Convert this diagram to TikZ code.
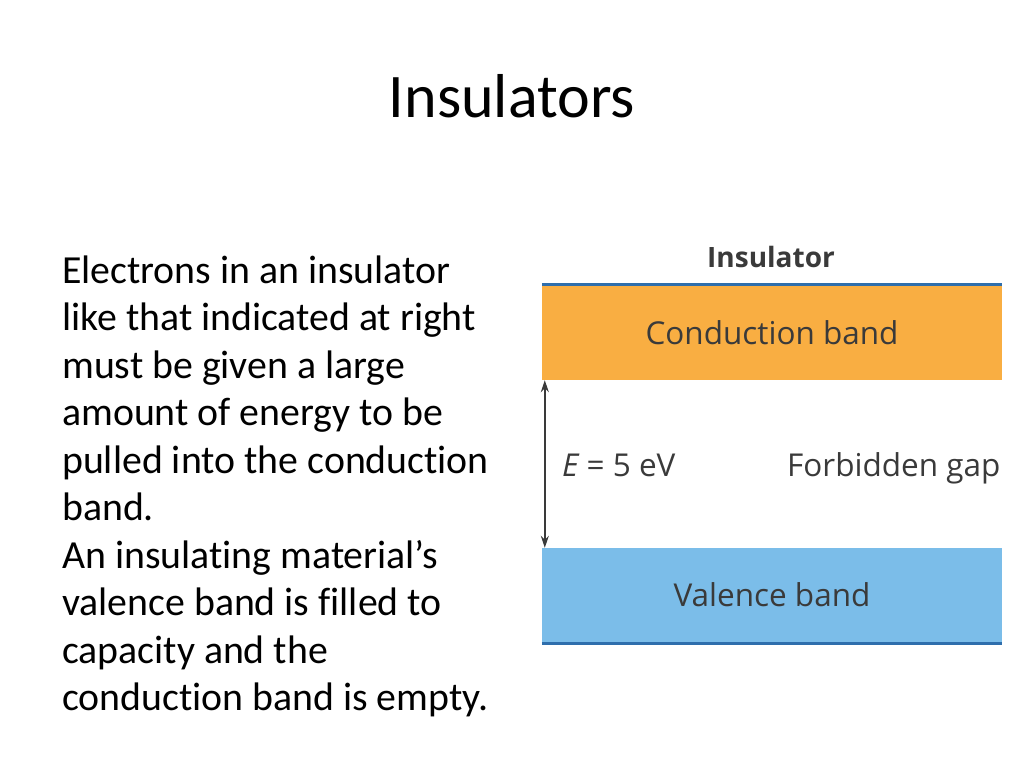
\documentclass[tikz,border=0pt]{standalone}
\usepackage{fontspec}
\setmainfont{Carlito}[Ligatures={NoCommon}]
\newfontfamily\figfont{Open Sans}
\usetikzlibrary{arrows.meta}

\begin{document}
\begin{tikzpicture}[x=1pt, y=-1pt,
  bodyline/.style={anchor=base west, inner sep=0pt, font=\fontsize{39.8}{47.5}\selectfont},
  band/.style={rectangle, inner sep=0pt, minimum width=460pt, minimum height=94pt,
    text=figtext, font=\figfont\fontsize{31.5}{38}\selectfont},
  bandedge/.style={draw=edgeblue, line width=3pt},
  figlabel/.style={anchor=base west, inner sep=0pt, text=figtext, font=\figfont\fontsize{31.5}{38}\selectfont},
  gaparrow/.style={{Stealth[length=12pt,width=8pt]}-{Stealth[length=12pt,width=8pt]}, draw=figtext, line width=1.5pt}]
  \definecolor{condorange}{RGB}{249,174,66}
  \definecolor{valblue}{RGB}{123,189,233}
  \definecolor{edgeblue}{RGB}{46,110,172}
  \definecolor{figtext}{RGB}{58,58,58}

  \useasboundingbox[fill=white] (0,0) rectangle (1024,768);

  % slide title
  \node[inner sep=0pt, anchor=base, font=\fontsize{62}{74}\selectfont] (title) at (512,117) {Insulators};

  % text on the left
  \foreach \txt [count=\i] in {Electrons in an insulator, like that indicated at right,
    must be given a large, amount of energy to be, pulled into the conduction, band.,
    An insulating material’s, valence band is filled to, capacity and the,
    conduction band is empty.}
  {
    \node[bodyline] (line\i) at (62, {283+47.5*(\i-1)}) {\txt};
  }

  % band diagram
  \node[anchor=base, inner sep=0pt, text=figtext, font=\figfont\bfseries\fontsize{28}{34}\selectfont] (head) at (771,267) {Insulator};
  \node[band, fill=condorange] (cond) at (772,333) {Conduction band};
  \node[band, fill=valblue] (val) at (772,595) {Valence band};
  \draw[bandedge] ([yshift=1.5pt]cond.north west) -- ([yshift=1.5pt]cond.north east);
  \draw[bandedge] ([yshift=-1.5pt]val.south west) -- ([yshift=-1.5pt]val.south east);

  \draw[gaparrow] ([xshift=3pt]cond.south west) -- ([xshift=3pt]val.north west);
  \node[figlabel] (gap) at (562,476) {{\itshape E} = 5 eV};
  \node[figlabel] (forbid) at (787,476) {Forbidden gap};
\end{tikzpicture}
\end{document}
